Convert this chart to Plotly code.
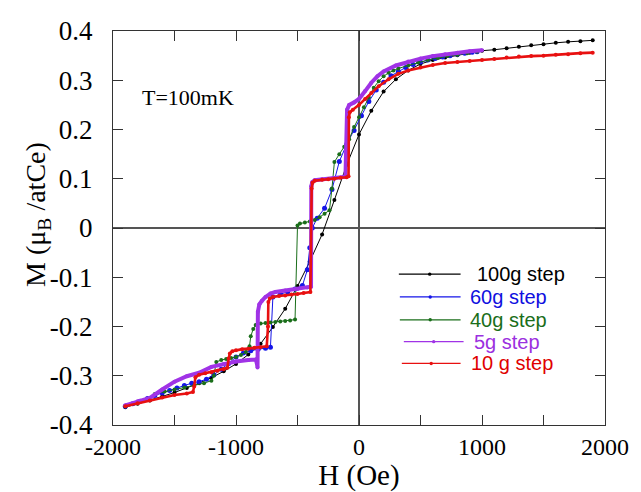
import plotly.graph_objects as go

# ---------------- data ----------------
H_100 = [-1900, -1800, -1700, -1600, -1500, -1400, -1300, -1200, -1100, -1000,
         -900, -800, -700, -600, -500, -400, -300, -200, -100, 0,
         100, 200, 300, 400, 500, 600, 700, 800, 900, 1000,
         1100, 1200, 1300, 1400, 1500, 1600, 1700, 1800, 1900]
M_100 = [-0.364, -0.357, -0.350, -0.342, -0.334, -0.325, -0.315, -0.304, -0.291, -0.276,
         -0.257, -0.235, -0.201, -0.164, -0.118, -0.068, -0.013, 0.057, 0.128, 0.190,
         0.238, 0.277, 0.302, 0.320, 0.333, 0.341, 0.346, 0.351, 0.356, 0.360,
         0.362, 0.365, 0.368, 0.371, 0.373, 0.376, 0.378, 0.379, 0.381]

H_60 = [-1900, -1840, -1780, -1720, -1660, -1600, -1540, -1480, -1420, -1360,
        -1300, -1240, -1180, -1120, -1060, -1000, -940, -880, -820, -760,
        -720, -700, -640, -580, -520, -460, -420, -400, -380, -340,
        -280, -220, -160, -100, -40, 20, 80, 140, 200, 260,
        320, 380, 440, 500, 560, 620, 680, 740, 800, 860, 920, 960]
M_60 = [-0.362, -0.357, -0.352, -0.346, -0.340, -0.335, -0.330, -0.325, -0.320, -0.315,
        -0.312, -0.307, -0.298, -0.287, -0.275, -0.262, -0.254, -0.249, -0.246, -0.244,
        -0.242, -0.140, -0.135, -0.130, -0.124, -0.117, -0.085, -0.040, 0.000, 0.020,
        0.040, 0.078, 0.135, 0.170, 0.198, 0.228, 0.257, 0.280, 0.296, 0.309,
        0.318, 0.326, 0.332, 0.337, 0.341, 0.344, 0.347, 0.350, 0.353, 0.355, 0.357, 0.358]

H_40 = [-1900, -1820, -1740, -1660, -1580, -1500, -1420, -1340, -1260, -1200,
        -1180, -1160, -1120, -1080, -1040, -1000, -960, -920, -890, -880,
        -860, -840, -800, -760, -720, -680, -640, -600, -560, -520,
        -500, -480, -440, -400, -360, -320, -280, -240, -220, -200,
        -160, -120, -80, -40, 0, 40, 80, 120, 160, 200,
        240, 280, 320, 400, 480, 560, 640, 720, 800, 880, 960]
M_40 = [-0.362, -0.356, -0.349, -0.337, -0.332, -0.328, -0.324, -0.320, -0.315, -0.310,
        -0.300, -0.272, -0.268, -0.266, -0.264, -0.262, -0.258, -0.252, -0.240, -0.220,
        -0.205, -0.197, -0.194, -0.193, -0.192, -0.191, -0.190, -0.189, -0.188, -0.186,
        0.005, 0.009, 0.011, 0.013, 0.016, 0.022, 0.029, 0.036, 0.080, 0.134,
        0.150, 0.165, 0.180, 0.205, 0.225, 0.245, 0.265, 0.285, 0.298, 0.308,
        0.315, 0.320, 0.324, 0.330, 0.336, 0.341, 0.345, 0.349, 0.352, 0.355, 0.358]

H_5 = [-1900, -1800, -1700, -1600, -1500, -1400, -1300, -1200, -1100, -1000,
       -900, -840, -830, -825, -822, -810, -790, -760, -720, -680,
       -600, -500, -420, -390, -388, -380, -360, -300, -200, -110,
       -97, -80, -40, 0, 50, 100, 150, 200, 300, 400,
       500, 600, 700, 800, 900, 1000]
M_5 = [-0.360, -0.352, -0.345, -0.328, -0.312, -0.301, -0.294, -0.282, -0.276, -0.271,
       -0.268, -0.267, -0.275, -0.283, -0.170, -0.155, -0.148, -0.140, -0.133, -0.130,
       -0.127, -0.124, -0.121, -0.119, 0.085, 0.093, 0.097, 0.099, 0.101, 0.104,
       0.240, 0.250, 0.255, 0.262, 0.278, 0.295, 0.308, 0.318, 0.330, 0.338,
       0.344, 0.349, 0.353, 0.356, 0.359, 0.361]

H_10 = [-1900, -1800, -1700, -1600, -1500, -1400, -1350, -1340, -1330, -1300,
        -1250, -1200, -1150, -1100, -1070, -1060, -1050, -1030, -1000, -950,
        -900, -850, -800, -750, -740, -737, -725, -700, -650, -600,
        -550, -500, -450, -395, -385, -378, -360, -300, -250, -200,
        -150, -100, -85, -82, -75, -50, 0, 50, 100, 160,
        240, 320, 400, 500, 600, 700, 800, 900, 1000, 1100,
        1200, 1300, 1400, 1500, 1600, 1700, 1800, 1900]
M_10 = [-0.362, -0.356, -0.350, -0.344, -0.339, -0.336, -0.333, -0.322, -0.303, -0.298,
        -0.295, -0.293, -0.290, -0.287, -0.284, -0.265, -0.255, -0.250, -0.248, -0.246,
        -0.245, -0.243, -0.242, -0.240, -0.200, -0.150, -0.143, -0.140, -0.138, -0.137,
        -0.135, -0.134, -0.132, -0.130, 0.080, 0.092, 0.096, 0.098, 0.099, 0.100,
        0.102, 0.103, 0.105, 0.225, 0.235, 0.240, 0.250, 0.262, 0.274, 0.288,
        0.302, 0.313, 0.320, 0.326, 0.331, 0.335, 0.337, 0.339, 0.341, 0.343,
        0.346, 0.348, 0.349, 0.350, 0.352, 0.353, 0.355, 0.356]

SERIES_NAMES = ["100g step", "60g step", "40g step", "5g step", "10 g step"]

X_TICKS = [-2000, -1000, 0, 1000, 2000]
X_LABELS = ["-2000", "-1000", "0", "1000", "2000"]
X_MINOR = [-1500, -500, 500, 1500]
Y_TICKS = [-0.4, -0.3, -0.2, -0.1, 0, 0.1, 0.2, 0.3, 0.4]
Y_LABELS = ["-0.4", "-0.3", "-0.2", "-0.1", "0", "0.1", "0.2", "0.3", "0.4"]

# ---------------- styles ----------------
LINE_COLORS = ["#000000", "#1515e8", "#1a6e1a", "#a033e6", "#e81010"]
TEXT_COLORS = ["#000000", "#1010e0", "#1a6e1a", "#9b30e0", "#e00000"]
LINE_WIDTHS = [1.0, 1.0, 1.0, 4.0, 2.6]
MARKER_SIZES = [4, 5, 4, 4, 4]

DATA = [(H_100, M_100), (H_60, M_60), (H_40, M_40), (H_5, M_5), (H_10, M_10)]

fig = go.Figure()
for (hx, my), col, lw, ms in zip(DATA, LINE_COLORS, LINE_WIDTHS, MARKER_SIZES):
    fig.add_trace(go.Scatter(
        x=hx, y=my, mode="lines+markers",
        line=dict(color=col, width=lw),
        marker=dict(color=col, size=ms),
        showlegend=False,
    ))

# ---- manual legend (paper coords derived from plot area 113..607 x 31..428 px) ----
L, R, T, B = 113, 607, 31, 428
def px_x(p):
    return (p - L) / (R - L)
def px_y(p):
    return (B - p) / (B - T)

leg_rows = [276, 299, 322, 344, 366]
leg_text_x = [476, 469, 469, 473, 470]
leg_line_x = [(400, 462), (401, 462), (401, 462), (405, 465), (403, 462)]
shapes = []
annotations = []
for i, name in enumerate(SERIES_NAMES):
    yy = px_y(leg_rows[i])
    x0, x1 = leg_line_x[i]
    shapes.append(dict(type="line", xref="paper", yref="paper",
                       x0=px_x(x0), x1=px_x(x1), y0=yy, y1=yy,
                       line=dict(color=LINE_COLORS[i], width=1.2)))
    xm = (x0 + x1) / 2
    shapes.append(dict(type="circle", xref="paper", yref="paper",
                       x0=px_x(xm - 1.7), x1=px_x(xm + 1.7),
                       y0=px_y(leg_rows[i] + 1.7), y1=px_y(leg_rows[i] - 1.7),
                       fillcolor=LINE_COLORS[i], line=dict(color=LINE_COLORS[i], width=0)))
    annotations.append(dict(x=px_x(leg_text_x[i]), y=yy, xref="paper", yref="paper",
                            xanchor="left", yanchor="middle", showarrow=False,
                            text=name,
                            font=dict(family="Liberation Sans", size=20, color=TEXT_COLORS[i])))

annotations.append(dict(x=-1393, y=0.265, xref="x", yref="y", text="T=100mK",
                        showarrow=False,
                        font=dict(family="Liberation Serif", size=22, color="#000")))
annotations.append(dict(x=px_x(37), y=px_y(216), xref="paper", yref="paper",
                        text="M (\u03bc<sub>B</sub> /atCe)", textangle=-90,
                        showarrow=False, xanchor="center", yanchor="middle",
                        font=dict(family="Liberation Serif", size=28, color="#000")))

axis_common = dict(
    showline=True, mirror="ticks", linecolor="#333333", linewidth=1.3,
    ticks="inside", ticklen=10, tickcolor="#333333", tickwidth=1.3,
    showgrid=False, zeroline=True, zerolinecolor="#555555", zerolinewidth=1.6,
)

fig.update_layout(
    width=641, height=492,
    margin=dict(l=113, r=34, t=31, b=64),
    paper_bgcolor="white", plot_bgcolor="white",
    showlegend=False,
    xaxis=dict(range=[-2000, 2000], tickvals=X_TICKS, ticktext=X_LABELS,
               tickfont=dict(family="Liberation Serif", size=24, color="#000000"),
               minor=dict(tickvals=X_MINOR, ticks="inside", ticklen=10,
                          tickcolor="#333333", tickwidth=1.3, showgrid=False),
               title=dict(text="H (Oe)", font=dict(family="Liberation Serif", size=29, color="#000"),
                          standoff=0),
               **axis_common),
    yaxis=dict(range=[-0.4, 0.4], tickvals=Y_TICKS, ticktext=Y_LABELS,
               tickfont=dict(family="Liberation Serif", size=27, color="#000000"),
               ticklabelstandoff=14,
               **axis_common),
    shapes=shapes,
    annotations=annotations,
)

fig.write_html("out.html")
